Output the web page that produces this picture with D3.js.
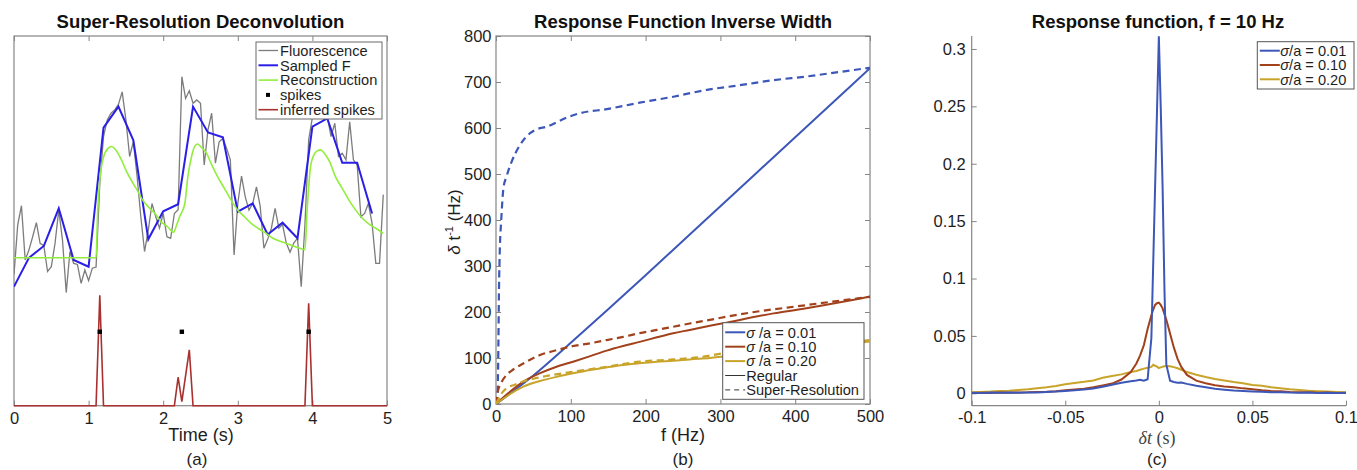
<!DOCTYPE html>
<html>
<head>
<meta charset="utf-8">
<script src="https://cdn.jsdelivr.net/npm/d3@7"></script>
<style>
  body { margin: 0; background: #fff; }
  svg { display: block; }
</style>
</head>
<body>
<svg id="fig"></svg>
<script>
// ---------- panel (a): super-resolution deconvolution ----------
const timeFluor = d3.range(100).map(i => +(i * 0.05).toFixed(2));
const fluorescence = [3.55,4.89,5.41,3.94,4.21,4.57,4.95,4.39,4.33,3.63,
  3.76,4.39,5.29,4.48,3.06,4.17,3.85,3.82,3.31,3.67,
  3.38,3.72,3.75,6.0,7.28,7.73,7.91,8.0,8.15,8.49,
  7.73,6.74,7.14,6.2,5.11,4.17,4.75,5.47,5.11,4.80,
  5.20,4.57,4.53,5.20,5.3,8.90,8.31,8.52,8.18,8.27,
  8.18,6.51,7.46,7.91,6.56,7.14,7.23,6.96,6.65,4.08,
  5.47,6.21,5.65,5.29,5.47,5.92,5.4,4.26,4.5,4.8,
  5.34,4.8,4.9,4.4,4.15,4.4,4.53,3.22,4.9,7.19,
  7.8,8.0,8.3,7.73,7.82,7.28,7.64,6.74,6.83,6.65,
  7.68,6.65,6.51,5.11,5.2,5.47,4.93,3.85,3.85,5.71];
const timeSampled = [0,0.2,0.4,0.6,0.8,1.0,1.2,1.4,1.6,1.8,2.0,2.2,2.4,2.6,2.8,3.0,3.2,3.4,3.6,3.8,4.0,4.2,4.4,4.6,4.8];
const sampledF = [3.22,4.00,4.32,5.34,3.94,3.76,7.52,8.09,7.18,4.50,5.26,5.45,8.09,7.39,7.26,5.25,5.47,4.63,4.95,4.53,7.55,7.77,6.57,6.57,5.20];
const reconstruction = [[0,4.0],[1.10,4.0],[1.12,5.2],[1.15,6.1],[1.2,6.72],[1.26,6.96],[1.31,7.01],[1.36,6.93],
  [1.44,6.65],[1.51,6.33],[1.6,6.0],[1.66,5.8],[1.71,5.61],[1.8,5.38],[1.89,5.2],[1.97,4.98],[2.06,4.84],
  [2.14,4.69],[2.18,4.89],[2.22,5.11],[2.29,5.47],[2.33,6.19],[2.38,6.74],[2.42,7.01],[2.46,7.08],[2.51,6.99],
  [2.58,6.83],[2.64,6.56],[2.73,6.19],[2.82,5.88],[2.91,5.56],[3.0,5.29],[3.09,5.11],[3.18,4.93],[3.27,4.80],
  [3.35,4.70],[3.47,4.53],[3.65,4.39],[3.8,4.28],[3.9,4.22],[3.93,5.3],[3.97,6.38],[4.01,6.74],[4.07,6.9],
  [4.11,6.92],[4.16,6.83],[4.23,6.6],[4.31,6.19],[4.4,5.88],[4.49,5.56],[4.58,5.29],[4.67,5.07],[4.76,4.91],
  [4.85,4.80],[4.95,4.66]];
const spikeTimes = [1.15, 2.25, 3.95];
const spikeLevel = 2.0;
const inferredSpikes = [[0,0],[1.1,0],[1.15,2.99],[1.2,0],[2.15,0],[2.2,0.77],[2.25,0.11],[2.35,1.51],[2.4,0],
  [3.9,0],[3.95,2.77],[4.0,0],[5,0]];
const ticksA = [0,1,2,3,4,5];
const legendA = ["Fluorescence", "Sampled F", "Reconstruction", "spikes", "inferred spikes"];

// ---------- panel (b): response function inverse width ----------
const b001Regular = [[0,0],[20,24],[50,62],[100,133],[150,206],[200,280],[250,355],[300,430],[350,505],[400,580],[450,655],[500,730]];
const b001Super = [[2,0],[3,100],[4,250],[5,330],[7,400],[10,470],[14,494],[21,527],[32,563],[45,588],[54,597],[68,603],
  [95,623],[112,632],[148,641],[192,655],[237,668],[282,683],[326,693],[371,704],[415,712],[460,722],[500,731]];
const b010Regular = [[0,0],[1,1.5],[19,27],[36,48],[59,67],[81,81],[103,92],[126,104],[148,116],[170,126],[192,135],
  [215,145],[237,154],[259,161],[286,170],[302,175],[371,197],[415,208],[460,221],[500,234]];
const b010Super = [[0,0],[1.8,23],[7.6,48],[14,63],[23,75],[36.5,88],[59,106.5],[81,117],[103,126],[126,132],[148,139],
  [170,146],[192,154],[215,161],[237,168],[259,175],[286,183],[326,195],[415,215],[500,233]];
const b020Regular = [[0,0],[19,21.7],[36.5,37.7],[59,50],[81,59],[103,66.7],[126,74],[148,79.7],[170,84.8],[192,88.4],
  [215,92],[237,94],[259,97],[286,100],[330,108],[400,119],[450,127],[500,136]];
const b020Super = [[0,0],[3,10],[8,24],[14,34],[25,42],[36,49],[50,55],[68,61],[103,70],[148,81],[192,92],[237,97],
  [282,104],[295,108],[400,124],[500,139]];
const ticksBx = [0,100,200,300,400,500];
const ticksBy = [0,100,200,300,400,500,600,700,800];
const ratios = ["0.01", "0.10", "0.20"];

// ---------- panel (c): response function at f = 10 Hz ----------
const dtC = [-0.100,-0.095,-0.090,-0.085,-0.080,-0.075,-0.070,-0.065,-0.060,-0.055,-0.050,-0.045,-0.040,-0.035,
  -0.030,-0.025,-0.020,-0.015,-0.012,-0.010,-0.008,-0.006,-0.004,-0.003,-0.002,-0.001,0,0.001,0.002,0.003,0.004,
  0.006,0.008,0.010,0.012,0.015,0.020,0.025,0.030,0.035,0.040,0.045,0.050,0.055,0.060,0.065,0.070,0.075,0.080,
  0.085,0.090,0.095,0.100];
const resp001 = [0.0005,0.0003,0.0006,0.0004,0.0007,0.0005,0.0008,0.0006,0.0012,0.0015,0.0020,0.0026,0.0034,0.0042,
  0.0058,0.0075,0.0092,0.0105,0.0112,0.0118,0.0110,0.0122,0.0480,0.1140,0.1800,0.2450,0.3110,0.2500,0.1800,0.0900,
  0.0250,0.0110,0.0098,0.0092,0.0094,0.0082,0.0065,0.0052,0.0040,0.0032,0.0024,0.0020,0.0016,0.0013,0.0009,0.0010,
  0.0006,0.0004,0.0006,0.0003,0.0005,0.0002,0.0004];
const resp010 = [0.0002,0.0004,0.0003,0.0006,0.0005,0.0008,0.0009,0.0012,0.0014,0.0018,0.0026,0.0033,0.0040,0.0052,
  0.0068,0.0085,0.0120,0.0185,0.0260,0.0330,0.0420,0.0560,0.0680,0.0730,0.0770,0.0785,0.0790,0.0770,0.0740,0.0690,
  0.0640,0.0520,0.0400,0.0300,0.0230,0.0160,0.0110,0.0088,0.0070,0.0060,0.0052,0.0043,0.0036,0.0027,0.0020,0.0017,
  0.0012,0.0010,0.0009,0.0005,0.0006,0.0003,0.0002];
const resp020 = [0.0010,0.0012,0.0015,0.0020,0.0022,0.0028,0.0035,0.0044,0.0052,0.0064,0.0078,0.0090,0.0100,0.0112,
  0.0135,0.0150,0.0165,0.0185,0.0195,0.0205,0.0215,0.0222,0.0230,0.0248,0.0240,0.0232,0.0220,0.0226,0.0232,0.0236,
  0.0238,0.0236,0.0228,0.0218,0.0205,0.0185,0.0162,0.0142,0.0125,0.0112,0.0098,0.0088,0.0072,0.0065,0.0052,0.0044,
  0.0035,0.0028,0.0022,0.0018,0.0015,0.0012,0.0010];
const ticksCx = [-0.1,-0.05,0,0.05,0.1];
const ticksCy = [0,0.05,0.1,0.15,0.2,0.25,0.3];

const FONT = "'Liberation Sans', Arial, Helvetica, sans-serif";
const axisGray = "#858585";
const textCol = "#1e1e1e";
const colsB = ["#3c57b8", "#a2421c", "#c9a42a"];

const svg = d3.select("#fig").attr("width", 1357).attr("height", 470)
    .style("font-family", FONT);

function styleAxis(g, size) {
    g.select(".domain").remove();
    g.selectAll(".tick line").attr("stroke", axisGray);
    g.selectAll(".tick text").attr("fill", textCol)
        .style("font-size", size + "px").style("font-family", FONT);
}
function clip(id, x0, y0, x1, y1) {
    svg.append("clipPath").attr("id", id).append("rect")
        .attr("x", x0).attr("y", y0).attr("width", x1 - x0).attr("height", y1 - y0);
}
function title(x, txt) {
    svg.append("text").attr("x", x).attr("y", 27.5).attr("text-anchor", "middle")
        .style("font-size", "18.5px").style("font-weight", "bold").attr("fill", "#111").text(txt);
}
function tag(x, txt) {
    svg.append("text").attr("x", x).attr("y", 465).attr("text-anchor", "middle")
        .style("font-size", "17px").attr("fill", textCol).text(txt);
}

// ================= panel (a) =================
const xA = d3.scaleLinear().domain([0, 5]).range([14, 387]);
const yA = d3.scaleLinear().domain([0, 10]).range([405.7, 36]);
clip("clipA", 14, 36, 387, 408);

svg.append("rect").attr("x", 14).attr("y", 36).attr("width", 373).attr("height", 369.7)
    .attr("fill", "none").attr("stroke", axisGray).attr("stroke-width", 1.2);
svg.append("g").attr("transform", "translate(0,405.7)")
    .call(d3.axisBottom(xA).tickValues(ticksA).tickSize(-5).tickSizeOuter(0).tickPadding(6.5).tickFormat(d3.format("d")))
    .call(g => styleAxis(g, 16.5));
svg.append("g").attr("transform", "translate(0,36)")
    .call(d3.axisTop(xA).tickValues(ticksA).tickSize(-5).tickSizeOuter(0).tickFormat(""))
    .call(g => styleAxis(g, 16.5));

const lineA = d3.line().x(d => xA(d[0])).y(d => yA(d[1]));
const smoothA = d3.line().x(d => xA(d[0])).y(d => yA(d[1])).curve(d3.curveMonotoneX);
const plotA = svg.append("g").attr("clip-path", "url(#clipA)");
plotA.append("path").datum(timeFluor.map((t, i) => [t, fluorescence[i]]))
    .attr("d", lineA).attr("fill", "none").attr("stroke", "#7c7c7c").attr("stroke-width", 1.3);
plotA.append("path").datum(timeSampled.map((t, i) => [t, sampledF[i]]))
    .attr("d", lineA).attr("fill", "none").attr("stroke", "#2a1fe6").attr("stroke-width", 2);
plotA.append("path").datum(reconstruction)
    .attr("d", smoothA).attr("fill", "none").attr("stroke", "#92ee3c").attr("stroke-width", 1.6);
plotA.append("path").datum(inferredSpikes)
    .attr("d", lineA).attr("fill", "none").attr("stroke", "#a8302f").attr("stroke-width", 1.6);
plotA.selectAll("rect.spike").data(spikeTimes).join("rect").attr("class", "spike")
    .attr("x", d => xA(d) - 2.2).attr("y", yA(spikeLevel) - 2.2).attr("width", 4.4).attr("height", 4.4).attr("fill", "#000");

const legA = svg.append("g").attr("transform", "translate(256,42)");
legA.append("rect").attr("width", 126).attr("height", 77).attr("fill", "#fff").attr("stroke", "#6a6a6a");
const legAstyle = [["#7c7c7c", 1.3], ["#2a1fe6", 2], ["#92ee3c", 1.6], null, ["#a8302f", 1.6]];
legendA.forEach((name, i) => {
    const yy = 8.5 + i * 14.8;
    if (legAstyle[i]) {
        legA.append("line").attr("x1", 2.5).attr("x2", 22).attr("y1", yy).attr("y2", yy)
            .attr("stroke", legAstyle[i][0]).attr("stroke-width", legAstyle[i][1]);
    } else {
        legA.append("rect").attr("x", 10).attr("y", yy - 2).attr("width", 4).attr("height", 4).attr("fill", "#000");
    }
    legA.append("text").attr("x", 24).attr("y", yy).attr("dy", "0.36em")
        .style("font-size", "14.6px").attr("fill", textCol).text(name);
});
title(200.5, "Super-Resolution Deconvolution");
svg.append("text").attr("x", 201).attr("y", 441).attr("text-anchor", "middle")
    .style("font-size", "18px").attr("fill", textCol).text("Time (s)");
tag(197, "(a)");

// ================= panel (b) =================
const xB = d3.scaleLinear().domain([0, 500]).range([496, 870]);
const yB = d3.scaleLinear().domain([0, 800]).range([404, 36]);
clip("clipB", 496, 36, 870, 404);

svg.append("rect").attr("x", 496).attr("y", 36).attr("width", 374).attr("height", 368)
    .attr("fill", "none").attr("stroke", axisGray).attr("stroke-width", 1.2);
svg.append("g").attr("transform", "translate(0,404)")
    .call(d3.axisBottom(xB).tickValues(ticksBx).tickSize(-5).tickSizeOuter(0).tickPadding(6).tickFormat(d3.format("d")))
    .call(g => styleAxis(g, 16.5));
svg.append("g").attr("transform", "translate(0,36)")
    .call(d3.axisTop(xB).tickValues(ticksBx).tickSize(-5).tickSizeOuter(0).tickFormat(""))
    .call(g => styleAxis(g, 16.5));
svg.append("g").attr("transform", "translate(496,0)")
    .call(d3.axisLeft(yB).tickValues(ticksBy).tickSize(-5).tickSizeOuter(0).tickPadding(4.5).tickFormat(d3.format("d")))
    .call(g => styleAxis(g, 16.5));
svg.append("g").attr("transform", "translate(870,0)")
    .call(d3.axisRight(yB).tickValues(ticksBy).tickSize(-5).tickSizeOuter(0).tickFormat(""))
    .call(g => styleAxis(g, 16.5));

const lineB = d3.line().x(d => xB(d[0])).y(d => yB(d[1])).curve(d3.curveMonotoneX);
const plotB = svg.append("g").attr("clip-path", "url(#clipB)");
[[b001Regular, b001Super], [b010Regular, b010Super], [b020Regular, b020Super]].forEach((pair, i) => {
    plotB.append("path").datum(pair[0]).attr("d", lineB).attr("fill", "none")
        .attr("stroke", colsB[i]).attr("stroke-width", 2);
    plotB.append("path").datum(pair[1]).attr("d", lineB).attr("fill", "none")
        .attr("stroke", colsB[i]).attr("stroke-width", 2.2).attr("stroke-dasharray", "7,4.5");
});

const legB = svg.append("g").attr("transform", "translate(722.7,322.7)");
legB.append("rect").attr("width", 141.3).attr("height", 76.6).attr("fill", "#fff").attr("stroke", "#555");
const legBrows = ratios.map((r, i) => ({ col: colsB[i], dash: null, w: 2, sig: true, txt: " /a = " + r }))
    .concat([{ col: "#333", dash: null, w: 1, sig: false, txt: "Regular" },
             { col: "#333", dash: "5,4", w: 1, sig: false, txt: "Super-Resolution" }]);
legBrows.forEach((r, i) => {
    const yy = 9.6 + i * 14.4;
    legB.append("line").attr("x1", 2.5).attr("x2", 22.5).attr("y1", yy).attr("y2", yy)
        .attr("stroke", r.col).attr("stroke-width", r.w).attr("stroke-dasharray", r.dash);
    const t = legB.append("text").attr("x", 23.5).attr("y", yy).attr("dy", "0.36em")
        .style("font-size", "14.6px").attr("fill", textCol);
    if (r.sig) t.append("tspan").style("font-style", "italic").text("σ");
    t.append("tspan").text(r.txt);
});
title(683, "Response Function Inverse Width");
const ylabB = svg.append("text").attr("transform", "translate(460,222) rotate(-90)")
    .attr("text-anchor", "middle").style("font-size", "17px").attr("fill", textCol);
ylabB.append("tspan").style("font-style", "italic").text("δ");
ylabB.append("tspan").text(" t");
ylabB.append("tspan").attr("dy", -7).style("font-size", "11px").text("-1");
ylabB.append("tspan").attr("dy", 7).text(" (Hz)");
svg.append("text").attr("x", 683).attr("y", 441).attr("text-anchor", "middle")
    .style("font-size", "18px").attr("fill", textCol).text("f (Hz)");
tag(683, "(b)");

// ================= panel (c) =================
const xC = d3.scaleLinear().domain([-0.1, 0.1]).range([971.7, 1346]);
const yC = d3.scaleLinear().domain([-0.0108, 0.3113]).range([405.7, 36]);
clip("clipC", 971.7, 35, 1346, 405.7);

svg.append("line").attr("x1", 971.7).attr("x2", 971.7).attr("y1", 36).attr("y2", 405.7)
    .attr("stroke", axisGray).attr("stroke-width", 1.2);
svg.append("line").attr("x1", 971.7).attr("x2", 1346).attr("y1", 405.7).attr("y2", 405.7)
    .attr("stroke", axisGray).attr("stroke-width", 1.2);
svg.append("g").attr("transform", "translate(0,405.7)")
    .call(d3.axisBottom(xC).tickValues(ticksCx).tickSize(-5).tickSizeOuter(0).tickPadding(6).tickFormat(d => String(d)))
    .call(g => styleAxis(g, 16.5));
svg.append("g").attr("transform", "translate(971.7,0)")
    .call(d3.axisLeft(yC).tickValues(ticksCy).tickSize(-5).tickSizeOuter(0).tickPadding(6).tickFormat(d => String(d)))
    .call(g => styleAxis(g, 16.5));

const lineC = d3.line().x(d => xC(d[0])).y(d => yC(d[1]));
const plotC = svg.append("g").attr("clip-path", "url(#clipC)");
[resp020, resp010, resp001].forEach((vals, k) => {
    plotC.append("path").datum(dtC.map((t, i) => [t, vals[i]]))
        .attr("d", lineC).attr("fill", "none").attr("stroke", colsB[2 - k]).attr("stroke-width", 2);
});

const legC = svg.append("g").attr("transform", "translate(1257.3,41.7)");
legC.append("rect").attr("width", 96.7).attr("height", 47.3).attr("fill", "#fff").attr("stroke", "#555");
ratios.forEach((r, i) => {
    const yy = 9 + i * 14.3;
    legC.append("line").attr("x1", 2.5).attr("x2", 22.5).attr("y1", yy).attr("y2", yy)
        .attr("stroke", colsB[i]).attr("stroke-width", 2);
    const t = legC.append("text").attr("x", 23).attr("y", yy).attr("dy", "0.36em")
        .style("font-size", "14.6px").attr("fill", textCol);
    t.append("tspan").style("font-style", "italic").text("σ");
    t.append("tspan").text("/a = " + r);
});
title(1158, "Response function, f = 10 Hz");
const xlabC = svg.append("text").attr("x", 1157).attr("y", 444).attr("text-anchor", "middle")
    .style("font-size", "18px").style("font-family", "'Liberation Serif', 'DejaVu Serif', serif").attr("fill", "#444");
xlabC.append("tspan").style("font-style", "italic").text("δt");
xlabC.append("tspan").text(" (s)");
tag(1157, "(c)");
</script>
</body>
</html>
